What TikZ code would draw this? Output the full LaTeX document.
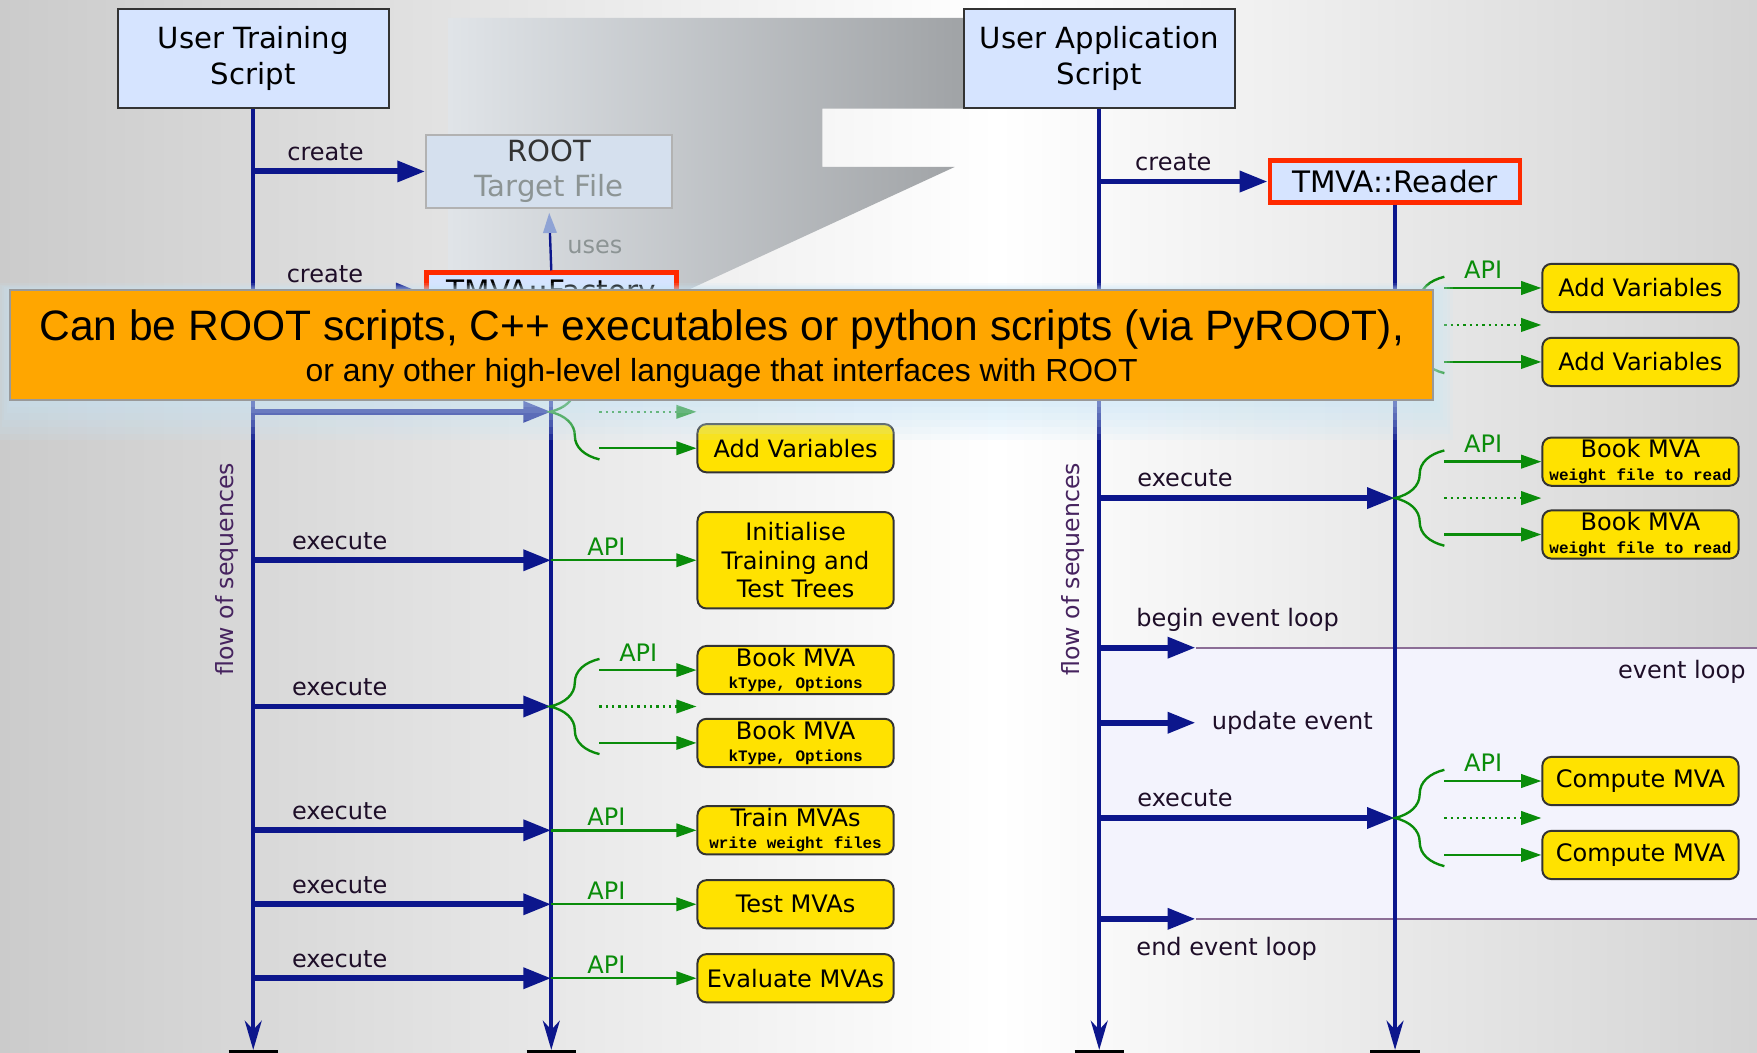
\documentclass[tikz,border=0pt]{standalone}
\usepackage{fontspec}
\setmainfont{DejaVu Sans}
\newfontfamily\notefont{Liberation Sans}
\newfontfamily\codefont{Liberation Mono}
\usepackage{tikz}
\usetikzlibrary{arrows.meta}
\usetikzlibrary{calc}
\usetikzlibrary{decorations.pathreplacing}

\definecolor{seqnavy}{RGB}{12,22,140}
\definecolor{apigreen}{RGB}{10,140,10}
\definecolor{lblue}{RGB}{214,228,255}
\definecolor{rootfill}{RGB}{213,224,238}
\definecolor{mvayellow}{RGB}{255,226,0}
\definecolor{boxred}{RGB}{255,42,0}
\definecolor{noteorange}{RGB}{255,166,0}
\definecolor{labelink}{RGB}{30,14,40}
\definecolor{flowink}{RGB}{70,35,95}
\definecolor{loopfill}{RGB}{243,243,253}
\definecolor{loopline}{RGB}{140,110,150}
\definecolor{bgleft}{RGB}{203,203,203}
\definecolor{bgright}{RGB}{212,212,212}
\definecolor{wedgelight}{RGB}{224,228,232}
\definecolor{wedgedark}{RGB}{160,163,166}
\definecolor{glow}{RGB}{200,230,248}
\definecolor{fadedtext}{RGB}{140,148,148}
\definecolor{usehead}{RGB}{143,163,213}

\tikzset{
  actor/.style={draw=black!80, fill=lblue, line width=0.5pt, minimum width=2.42cm, minimum height=0.88cm, align=center, inner sep=0pt, font=\fontsize{7.4}{9.1}\selectfont},
  rootfile/.style={draw=black!30, fill=rootfill, line width=0.5pt, minimum width=2.19cm, minimum height=0.65cm, align=center, inner sep=0pt, text=black!80, font=\fontsize{7.4}{8.8}\selectfont},
  tmvaobj/.style={draw=boxred, fill=lblue, line width=1.2pt, minimum width=2.23cm, minimum height=0.37cm, inner sep=0pt, font=\fontsize{7.5}{9}\selectfont},
  mvabox/.style={draw=black!80, fill=mvayellow, line width=0.5pt, rounded corners=0.08cm, minimum width=1.75cm, minimum height=0.43cm, align=center, inner sep=0pt, font=\fontsize{6.1}{7.2}\selectfont},
  lifeline/.style={seqnavy, line width=1.1pt, -{Stealth[length=2.6mm,width=1.5mm,inset=0.8mm]}},
  endbar/.style={black, line width=0.8pt},
  msg/.style={seqnavy, line width=1.5pt, -{Triangle[length=2.5mm,width=1.8mm]}},
  uses/.style={seqnavy, line width=0.6pt, shorten >=1pt, -{Triangle[length=1.8mm,width=1.2mm,color=usehead]}},
  api/.style={apigreen, line width=0.6pt, -{Triangle[length=1.8mm,width=1.2mm]}},
  apidot/.style={api, densely dotted},
  brc/.style={apigreen, line width=0.6pt, decorate, decoration={brace, amplitude=0.44cm}},
  loopedge/.style={loopline, line width=0.5pt},
  lbl/.style={text=labelink, inner sep=1pt, font=\fontsize{6.1}{7}\selectfont},
  apilbl/.style={text=apigreen, inner sep=1pt, font=\fontsize{6.1}{7}\selectfont},
  useslbl/.style={text=fadedtext, inner sep=1pt, font=\fontsize{6.1}{7}\selectfont},
  flowlbl/.style={text=flowink, inner sep=0pt, font=\fontsize{6}{7}\selectfont},
  notebox/.style={draw=black!40, fill=noteorange, line width=0.6pt, minimum width=12.69cm, minimum height=0.98cm, inner sep=0pt},
  notetext/.style={align=center, inner sep=0pt, font=\notefont},
}
\newcommand{\mvaargs}[1]{{\codefont\bfseries\fontsize{4.05}{5}\selectfont #1}}

\begin{document}
\begin{tikzpicture}[x=0.01cm,y=-0.01cm]
  \useasboundingbox (0,0) rectangle (1568,939);
  % backdrop
  \shade[left color=bgleft, right color=white] (0,0) rectangle (890,939);
  \shade[left color=white, right color=bgright] (890,0) rectangle (1568,939);
  \shade[left color=wedgelight, right color=wedgedark] (400,16) -- (860,16) -- (860,97) -- (734,97) -- (734,149) -- (852,149) -- (607,262) -- (400,262) -- cycle;
  \fill[loopfill] (982,578) rectangle (1568,820);

  \coordinate (bottom) at (0,937);
  \coordinate (east) at (1568,0);
  \coordinate (ltip) at (535,0);
  \coordinate (rtip) at (1289,0);

  % training script
  \node[actor] (uts) at (226,52) {User Training\\Script};
  \node[rootfile] (root) at (490,153) {ROOT\\\textcolor{fadedtext}{Target File}};
  \node[tmvaobj] (fac) at (492,262) {TMVA::Factory};
  \node[mvabox] (av1) at (710,335) {};
  \node[mvabox] (av2) at (710,400) {Add Variables};
  \node[mvabox, minimum height=0.86cm] (init) at (710,500) {Initialise\\Training and\\Test Trees};
  \node[mvabox] (bk1) at (710,598) {Book MVA\\[-1.5pt]\mvaargs{kType, Options}};
  \node[mvabox] (bk2) at (710,663) {Book MVA\\[-1.5pt]\mvaargs{kType, Options}};
  \node[mvabox] (trn) at (710,741) {Train MVAs\\[-1.5pt]\mvaargs{write weight files}};
  \node[mvabox] (tst) at (710,807) {Test MVAs};
  \node[mvabox] (evl) at (710,873) {Evaluate MVAs};
  \node[flowlbl, rotate=90] (flowl) at (203,508) {flow of sequences};

  \coordinate (mav) at ($(av1.west)!.5!(av2.west)$);
  \coordinate (mbk) at ($(bk1.west)!.5!(bk2.west)$);

  \draw[lifeline] (uts.south) -- (uts.south |- bottom);
  \draw[lifeline] (fac.south) -- (fac.south |- bottom);
  \draw[endbar] ($(uts.south |- bottom)+(-22,1.5)$) -- ++(44,0);
  \draw[endbar] ($(fac.south |- bottom)+(-22,1.5)$) -- ++(44,0);

  \draw[msg] (root.west -| uts.south) -- node[lbl, pos=.42, above=1pt] (cr1) {create} (root.west);
  \draw[uses] (fac.north) -- node[useslbl, pos=.38, right=3pt] (us1) {uses} (root.south);
  \draw[msg] (fac.west -| uts.south) -- node[lbl, pos=.42, above=1pt] (cr2) {create} (fac.west);

  \draw[msg] (mav -| uts.south) -- (mav -| fac.south);
  \draw[brc] ($(av2.west -| ltip)+(0,10)$) -- ($(av1.west -| ltip)+(0,-10)$);
  \draw[api] (av1.west -| ltip) -- (av1.west);
  \draw[apidot] (mav -| ltip) -- (mav -| av1.west);
  \draw[api] (av2.west -| ltip) -- (av2.west);

  \draw[msg] (init.west -| uts.south) -- node[lbl, pos=.29, above=1pt] (ex2) {execute} (init.west -| fac.south);
  \draw[api] (init.west -| fac.south) -- node[apilbl, pos=.38, above=0pt] (ap2) {API} (init.west);

  \draw[msg] (mbk -| uts.south) -- node[lbl, pos=.29, above=1pt] (ex3) {execute} (mbk -| fac.south);
  \draw[brc] ($(bk2.west -| ltip)+(0,10)$) -- ($(bk1.west -| ltip)+(0,-10)$);
  \draw[api] (bk1.west -| ltip) -- node[apilbl, pos=.4, above=1pt] (ap3) {API} (bk1.west);
  \draw[apidot] (mbk -| ltip) -- (mbk -| bk1.west);
  \draw[api] (bk2.west -| ltip) -- (bk2.west);

  \draw[msg] (trn.west -| uts.south) -- node[lbl, pos=.29, above=1pt] (ex4) {execute} (trn.west -| fac.south);
  \draw[api] (trn.west -| fac.south) -- node[apilbl, pos=.38, above=0pt] (ap4) {API} (trn.west);
  \draw[msg] (tst.west -| uts.south) -- node[lbl, pos=.29, above=1pt] (ex5) {execute} (tst.west -| fac.south);
  \draw[api] (tst.west -| fac.south) -- node[apilbl, pos=.38, above=0pt] (ap5) {API} (tst.west);
  \draw[msg] (evl.west -| uts.south) -- node[lbl, pos=.29, above=1pt] (ex6) {execute} (evl.west -| fac.south);
  \draw[api] (evl.west -| fac.south) -- node[apilbl, pos=.38, above=0pt] (ap6) {API} (evl.west);

  % application script
  \node[actor] (uas) at (981,52) {User Application\\Script};
  \node[tmvaobj] (rdr) at (1245,162) {TMVA::Reader};
  \node[mvabox] (rav1) at (1464,257) {Add Variables};
  \node[mvabox] (rav2) at (1464,323) {Add Variables};
  \node[mvabox] (rbk1) at (1464,412) {Book MVA\\[-1.5pt]\mvaargs{weight file to read}};
  \node[mvabox] (rbk2) at (1464,477) {Book MVA\\[-1.5pt]\mvaargs{weight file to read}};
  \node[mvabox] (cmp1) at (1464,697) {Compute MVA};
  \node[mvabox] (cmp2) at (1464,763) {Compute MVA};
  \node[flowlbl, rotate=90] (flowr) at (958,508) {flow of sequences};

  \coordinate (mrav) at ($(rav1.west)!.5!(rav2.west)$);
  \coordinate (mrbk) at ($(rbk1.west)!.5!(rbk2.west)$);
  \coordinate (mcmp) at ($(cmp1.west)!.5!(cmp2.west)$);
  \coordinate (loopbeg) at (1067,578);
  \coordinate (loopupd) at (1067,645);
  \coordinate (loopend) at (1067,820);

  \draw[loopedge] (loopbeg) -- (loopbeg -| east);
  \draw[loopedge] (loopend) -- (loopend -| east);

  \draw[lifeline] (uas.south) -- (uas.south |- bottom);
  \draw[lifeline] (rdr.south) -- (rdr.south |- bottom);
  \draw[endbar] ($(uas.south |- bottom)+(-22,1.5)$) -- ++(44,0);
  \draw[endbar] ($(rdr.south |- bottom)+(-22,1.5)$) -- ++(44,0);

  \draw[msg] (rdr.west -| uas.south) -- node[lbl, pos=.44, above=1pt] (cr3) {create} (rdr.west);

  \draw[msg] (mrav -| uas.south) -- (mrav -| rdr.south);
  \draw[brc] ($(rav2.west -| rtip)+(0,10)$) -- ($(rav1.west -| rtip)+(0,-10)$);
  \draw[api] (rav1.west -| rtip) -- node[apilbl, pos=.4, above=1pt] (ap7) {API} (rav1.west);
  \draw[apidot] (mrav -| rtip) -- (mrav -| rav1.west);
  \draw[api] (rav2.west -| rtip) -- (rav2.west);

  \draw[msg] (mrbk -| uas.south) -- node[lbl, pos=.29, above=1pt] (ex8) {execute} (mrbk -| rdr.south);
  \draw[brc] ($(rbk2.west -| rtip)+(0,10)$) -- ($(rbk1.west -| rtip)+(0,-10)$);
  \draw[api] (rbk1.west -| rtip) -- node[apilbl, pos=.4, above=1pt] (ap8) {API} (rbk1.west);
  \draw[apidot] (mrbk -| rtip) -- (mrbk -| rbk1.west);
  \draw[api] (rbk2.west -| rtip) -- (rbk2.west);

  \draw[msg] (loopbeg -| uas.south) -- (loopbeg);
  \node[lbl, anchor=west] (beglbl) at (1010,553) {begin event loop};
  \node[lbl, anchor=east] (looplbl) at (1562,600) {event loop};
  \draw[msg] (loopupd -| uas.south) -- (loopupd) node[lbl, right=2.4pt] (updlbl) {update event};

  \draw[msg] (mcmp -| uas.south) -- node[lbl, pos=.29, above=1pt] (ex9) {execute} (mcmp -| rdr.south);
  \draw[brc] ($(cmp2.west -| rtip)+(0,10)$) -- ($(cmp1.west -| rtip)+(0,-10)$);
  \draw[api] (cmp1.west -| rtip) -- node[apilbl, pos=.4, above=1pt] (ap9) {API} (cmp1.west);
  \draw[apidot] (mcmp -| rtip) -- (mcmp -| cmp1.west);
  \draw[api] (cmp2.west -| rtip) -- (cmp2.west);

  \draw[msg] (loopend -| uas.south) -- (loopend);
  \node[lbl, anchor=west] (endlbl) at (1010,847) {end event loop};

  % orange note with its glow
  \coordinate (notec) at (644,308);
  \foreach \d in {1,...,6}
    \fill[glow, opacity=0.13] ($(notec)+(-634-2*\d,-49-\d)$) rectangle ($(notec)+(635+3*\d,49+6*\d)$);
  \node[notebox] (note) at (notec) {};
  \node[notetext] (notetxt) at ($(notec)+(0,3.5)$) {{\fontsize{10.8}{13}\selectfont Can be ROOT scripts, C++ executables or python scripts (via PyROOT),}\\[-1.5pt]{\fontsize{8.1}{10}\selectfont or any other high-level language that interfaces with ROOT}};
\end{tikzpicture}
\end{document}
